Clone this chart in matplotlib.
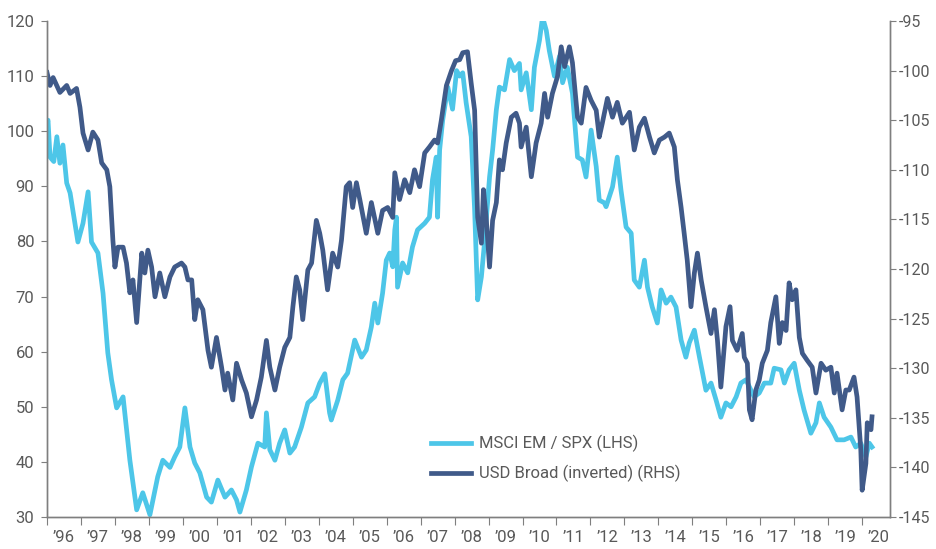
import numpy as np
import matplotlib
matplotlib.use('Agg')
import matplotlib.pyplot as plt
from matplotlib.ticker import FixedLocator, NullFormatter

plt.rcParams['font.family'] = ['Roboto', 'DejaVu Sans']
plt.rcParams['axes.unicode_minus'] = False

# MSCI EM / SPX ratio (LHS), decimal years
em_t = [1996.00, 1996.03, 1996.09, 1996.20, 1996.29, 1996.38, 1996.47, 1996.58, 1996.68, 1996.91,
        1997.06, 1997.21, 1997.31, 1997.50, 1997.65, 1997.79, 1997.90, 1998.05, 1998.24, 1998.44,
        1998.64, 1998.82, 1999.03, 1999.26, 1999.41, 1999.62, 1999.76, 1999.91, 2000.06, 2000.21,
        2000.35, 2000.50, 2000.70, 2000.84, 2001.03, 2001.24, 2001.43, 2001.58, 2001.68, 2001.87,
        2002.02, 2002.21, 2002.41, 2002.46, 2002.56, 2002.71, 2002.85, 2003.00, 2003.15, 2003.29,
        2003.49, 2003.68, 2003.88, 2004.03, 2004.18, 2004.32, 2004.37, 2004.56, 2004.71, 2004.85,
        2005.06, 2005.26, 2005.40, 2005.55, 2005.65, 2005.74, 2005.88, 2005.99, 2006.09, 2006.18,
        2006.24, 2006.29, 2006.32, 2006.47, 2006.62, 2006.76, 2006.91, 2007.12, 2007.26, 2007.35,
        2007.46, 2007.50, 2007.56, 2007.65, 2007.80, 2007.94, 2008.06, 2008.15, 2008.24, 2008.34,
        2008.49, 2008.59, 2008.68, 2008.79, 2008.88, 2009.03, 2009.12, 2009.23, 2009.32, 2009.47,
        2009.62, 2009.76, 2009.91, 2009.96, 2010.11, 2010.26, 2010.35, 2010.50, 2010.59, 2010.70,
        2010.79, 2010.94, 2011.09, 2011.18, 2011.32, 2011.47, 2011.62, 2011.76, 2011.87, 2012.02,
        2012.17, 2012.26, 2012.41, 2012.46, 2012.65, 2012.79, 2012.90, 2013.05, 2013.20, 2013.29,
        2013.44, 2013.59, 2013.68, 2013.82, 2013.97, 2014.08, 2014.23, 2014.37, 2014.52, 2014.67,
        2014.81, 2014.91, 2015.06, 2015.21, 2015.40, 2015.55, 2015.70, 2015.84, 2015.99, 2016.14,
        2016.29, 2016.43, 2016.58, 2016.82, 2016.97, 2017.12, 2017.31, 2017.41, 2017.61, 2017.71,
        2017.85, 2018.00, 2018.15, 2018.29, 2018.49, 2018.64, 2018.74, 2018.88, 2019.08, 2019.26,
        2019.47, 2019.67, 2019.81, 2019.96, 2020.11, 2020.21, 2020.29]
em_v = [101.5, 102.0, 95.3, 94.5, 99.0, 94.2, 97.5, 90.6, 88.8, 79.9,
        83.3, 89.0, 79.9, 77.9, 70.6, 59.8, 54.9, 49.8, 51.8, 40.3,
        31.3, 34.4, 30.4, 37.3, 40.3, 39.0, 40.9, 42.7, 49.8, 42.7,
        39.8, 38.0, 33.6, 32.7, 36.7, 33.6, 34.9, 33.1, 30.9, 34.9,
        39.1, 43.4, 42.7, 48.9, 42.2, 40.3, 43.4, 45.8, 41.6, 42.7,
        46.3, 50.7, 51.8, 54.3, 56.0, 48.9, 47.6, 51.2, 54.9, 56.1,
        62.1, 59.0, 60.3, 64.5, 68.8, 65.2, 70.6, 76.6, 77.9, 75.4,
        82.1, 84.4, 71.7, 76.1, 74.3, 79.0, 82.1, 83.3, 84.4, 91.2,
        95.3, 84.4, 96.6, 102.0, 108.0, 104.0, 111.0, 110.0, 110.6, 105.2,
        99.0, 85.8, 69.4, 73.6, 79.7, 91.7, 96.6, 103.9, 108.0, 107.5,
        113.0, 111.0, 112.3, 107.5, 110.6, 103.9, 111.6, 116.5, 120.7, 118.3,
        114.6, 110.0, 113.6, 108.8, 111.6, 106.9, 95.3, 94.8, 91.7, 100.2,
        93.6, 87.5, 87.0, 86.3, 89.9, 95.3, 89.3, 82.6, 81.5, 73.0,
        71.7, 76.6, 71.7, 68.1, 65.2, 71.2, 68.8, 69.9, 68.1, 62.1,
        59.0, 61.6, 63.9, 59.0, 53.0, 54.3, 51.2, 48.1, 50.7, 50.0,
        51.8, 54.3, 54.9, 51.8, 52.5, 54.3, 54.3, 57.0, 56.7, 54.3,
        56.7, 57.9, 53.0, 49.4, 45.2, 47.1, 50.7, 48.1, 46.3, 44.0,
        44.0, 44.5, 42.7, 43.4, 40.9, 43.4, 42.7]

# USD Broad index (plotted inverted on RHS)
usd_t = [1996.00, 1996.09, 1996.18, 1996.38, 1996.58, 1996.68, 1996.87, 1996.97, 1997.06, 1997.21,
         1997.35, 1997.50, 1997.61, 1997.76, 1997.85, 1997.94, 1998.00, 1998.09, 1998.24, 1998.34,
         1998.44, 1998.53, 1998.64, 1998.79, 1998.88, 1998.97, 1999.08, 1999.18, 1999.32, 1999.47,
         1999.62, 1999.76, 1999.96, 2000.06, 2000.15, 2000.26, 2000.35, 2000.44, 2000.59, 2000.74,
         2000.84, 2000.99, 2001.14, 2001.24, 2001.32, 2001.47, 2001.58, 2001.73, 2001.87, 2002.02,
         2002.17, 2002.31, 2002.46, 2002.56, 2002.71, 2002.85, 2003.00, 2003.15, 2003.24, 2003.34,
         2003.44, 2003.53, 2003.68, 2003.79, 2003.93, 2004.03, 2004.12, 2004.26, 2004.41, 2004.56,
         2004.67, 2004.81, 2004.91, 2005.00, 2005.11, 2005.21, 2005.40, 2005.55, 2005.74, 2005.88,
         2006.03, 2006.18, 2006.24, 2006.38, 2006.53, 2006.68, 2006.82, 2006.97, 2007.12, 2007.26,
         2007.41, 2007.50, 2007.61, 2007.76, 2007.91, 2008.03, 2008.15, 2008.24, 2008.38, 2008.49,
         2008.59, 2008.68, 2008.79, 2008.85, 2008.93, 2009.03, 2009.12, 2009.23, 2009.32, 2009.41,
         2009.52, 2009.67, 2009.81, 2009.91, 2009.96, 2010.11, 2010.26, 2010.40, 2010.55, 2010.65,
         2010.74, 2010.88, 2011.03, 2011.14, 2011.24, 2011.38, 2011.47, 2011.62, 2011.73, 2011.87,
         2012.02, 2012.17, 2012.26, 2012.35, 2012.50, 2012.65, 2012.79, 2012.94, 2013.15, 2013.29,
         2013.44, 2013.59, 2013.74, 2013.88, 2014.03, 2014.18, 2014.32, 2014.47, 2014.56, 2014.67,
         2014.76, 2014.85, 2014.96, 2015.06, 2015.15, 2015.26, 2015.40, 2015.55, 2015.65, 2015.74,
         2015.84, 2015.99, 2016.11, 2016.18, 2016.32, 2016.47, 2016.53, 2016.62, 2016.68, 2016.76,
         2016.87, 2016.97, 2017.06, 2017.21, 2017.31, 2017.46, 2017.56, 2017.65, 2017.76, 2017.85,
         2017.94, 2018.05, 2018.15, 2018.24, 2018.38, 2018.53, 2018.64, 2018.79, 2018.93, 2019.08,
         2019.18, 2019.26, 2019.41, 2019.52, 2019.62, 2019.76, 2019.85, 2019.96, 2020.00, 2020.11,
         2020.15, 2020.26, 2020.29]
usd_v = [100.2, 101.5, 100.7, 102.2, 101.5, 102.3, 101.8, 103.7, 106.3, 108.0,
         106.2, 107.0, 109.3, 110.0, 111.7, 117.1, 119.8, 117.8, 117.8, 119.4,
         122.4, 121.1, 125.4, 118.4, 120.4, 118.1, 119.8, 122.8, 120.4, 122.8,
         120.8, 119.8, 119.4, 119.8, 121.1, 121.1, 125.1, 123.1, 124.1, 128.2,
         129.9, 126.9, 129.9, 132.2, 130.5, 133.2, 129.5, 131.2, 132.5, 134.9,
         133.2, 130.9, 127.2, 129.9, 132.2, 129.9, 127.9, 126.9, 123.8, 120.8,
         122.1, 125.1, 120.1, 119.4, 115.1, 116.4, 118.1, 122.1, 118.4, 119.8,
         117.1, 111.7, 111.3, 113.8, 111.3, 113.0, 116.4, 113.3, 116.4, 114.1,
         113.8, 114.8, 110.3, 113.0, 111.0, 112.3, 110.0, 111.7, 108.3, 107.7,
         107.0, 107.3, 105.0, 101.5, 100.0, 99.0, 98.9, 98.2, 98.1, 101.3,
         104.0, 114.8, 117.4, 112.0, 114.8, 119.8, 115.1, 113.3, 109.0, 110.0,
         107.3, 104.7, 104.3, 105.3, 107.7, 105.7, 110.7, 107.3, 105.3, 102.3,
         104.7, 102.3, 100.6, 97.6, 99.6, 97.6, 99.2, 104.7, 105.3, 101.7,
         103.0, 104.0, 106.7, 105.3, 102.8, 104.7, 103.2, 105.3, 104.2, 108.0,
         105.7, 104.8, 106.7, 108.3, 107.0, 106.7, 106.3, 107.7, 111.0, 113.8,
         116.4, 119.1, 123.8, 120.4, 118.4, 121.1, 123.8, 126.5, 124.1, 127.2,
         131.9, 125.8, 123.8, 127.2, 128.2, 126.5, 128.9, 129.5, 134.2, 135.2,
         132.2, 131.2, 129.5, 128.2, 125.4, 122.8, 127.5, 125.4, 126.2, 121.4,
         123.1, 122.1, 126.9, 128.5, 129.2, 129.9, 132.5, 129.5, 130.2, 129.9,
         132.5, 130.5, 134.2, 132.2, 132.2, 130.9, 132.9, 138.2, 142.3, 139.6,
         135.5, 136.2, 134.9]

years = list(range(1996, 2021))
year_labels = ['\u2019%02d' % (y % 100) for y in years]

light = '#4DC6E8'
dark = '#405A89'
grey = '#7F7F7F'
txt = '#595959'

fig = plt.figure(figsize=(9.36, 5.49), dpi=100, facecolor='white')
ax = fig.add_axes([47 / 936, 1 - 517 / 549, 843 / 936, 496 / 549])
ax2 = ax.twinx()

l1, = ax.plot(em_t, em_v, color=light, lw=3.4, solid_joinstyle='round')
l2, = ax2.plot(usd_t, -np.array(usd_v), color=dark, lw=3.4, solid_joinstyle='round')

ax.set_xlim(1996.0, 2020.82)
ax.set_ylim(30, 120)
ax.set_yticks(range(30, 121, 10))
ax2.set_ylim(-145, -95)
ax2.set_yticks(range(-145, -94, 5))

ax.xaxis.set_major_locator(FixedLocator(years))
ax.xaxis.set_major_formatter(NullFormatter())
ax.xaxis.set_minor_locator(FixedLocator([y + 0.5 for y in years]))
ax.set_xticklabels(year_labels, minor=True)
ax.tick_params(axis='x', which='major', length=6, color=grey, direction='out')
ax.tick_params(axis='x', which='minor', length=0, pad=9, labelsize=12, labelcolor=txt)
ax.tick_params(axis='y', length=4, color=grey, pad=5, labelsize=12, labelcolor=txt)
ax2.tick_params(axis='y', length=4, color=grey, pad=2.5, labelsize=11.5, labelcolor=txt)

for a in (ax, ax2):
    a.spines['top'].set_visible(False)
    for s in ('left', 'right', 'bottom'):
        a.spines[s].set_color(grey)
        a.spines[s].set_linewidth(1.0)

ax2.legend([l1, l2], ['MSCI EM / SPX (LHS)', 'USD Broad (inverted) (RHS)'],
           loc='upper left', bbox_to_anchor=(0.455, 0.165), frameon=False,
           borderpad=0, borderaxespad=0, handlelength=2.4, handletextpad=0.5,
           labelspacing=0.75, fontsize=12, labelcolor=txt)

fig.savefig('out.png', dpi=100, facecolor='white')
